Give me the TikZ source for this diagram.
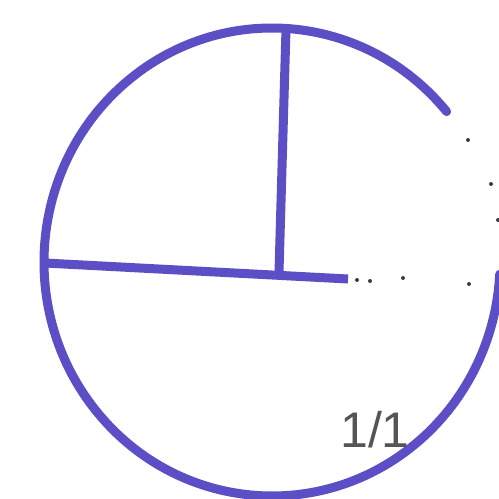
\documentclass[tikz,border=0pt]{standalone}
\usepackage{fontspec}
\setsansfont{Liberation Sans}
\definecolor{pen}{RGB}{92,78,196}
\definecolor{dotc}{RGB}{60,60,70}
\definecolor{txt}{RGB}{85,85,85}
\begin{document}
\begin{tikzpicture}[x=1pt,y=-1pt,
  penline/.style={draw=pen,line width=9pt,line cap=round,line join=round},
  dotmark/.style={fill=dotc,circle,inner sep=0pt,minimum size=4pt}]
\useasboundingbox (0,0) rectangle (499,499);
\clip (0,0) rectangle (499,499);
\fill[white] (0,0) rectangle (499,499);
% outline: open circle, gap at upper right
\coordinate (c0) at (272,262);
\draw[penline] (c0) ++(-40:228 and 234) arc[start angle=-40,end angle=-357,x radius=228,y radius=234];
% radii
\coordinate (top) at (286,29);
\coordinate (ctr) at (279,272);
\coordinate (left) at (45,263);
\coordinate (rend) at (348,279);
\draw[penline] (top) -- (ctr);
\draw[penline,line cap=butt] (left) -- (rend);
% dots
\foreach \p [count=\i] in {(357,280),(370,281),(403,278),(469,284),(468,140),(491,184),(498,220)}
  \node[dotmark] (d\i) at \p {};
% label
\node[text=txt,font=\sffamily\fontsize{50}{50}\selectfont,inner sep=0pt] (lbl) at (375,430) {1/1};
\end{tikzpicture}
\end{document}
